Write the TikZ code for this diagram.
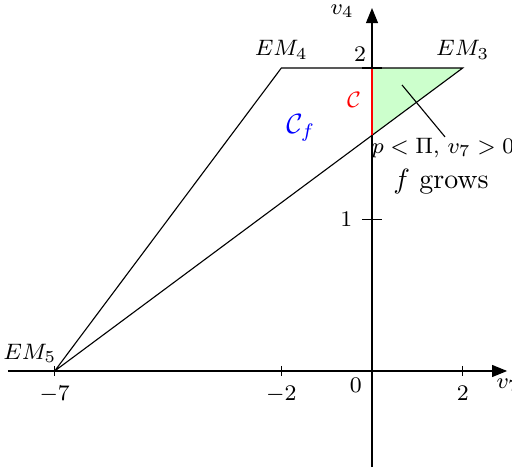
\documentclass[tikz,border=0pt]{standalone}
\usetikzlibrary{arrows.meta}
\begin{document}
\begin{tikzpicture}[x=16.25pt,y=54.30pt,
  axisarrow/.style={-{Triangle[length=5.4pt,width=4.3pt]}},
  ticklab/.style={font=\footnotesize},
  emlab/.style={font=\footnotesize}]
\useasboundingbox (-8.206,-0.660) rectangle (3.088,2.449);
% points
\coordinate (EM5) at (-7,0);
\coordinate (EM4) at (-2,2);
\coordinate (EM3) at (2,2);
\coordinate (T) at (0,2);
\coordinate (B) at (0,14/9);
% region
\fill[green!20] (T) -- (EM3) -- (B) -- cycle;
\draw (EM5) -- (EM4) -- (EM3) -- (EM5);
% axes
\coordinate (xs) at (-8.03,0);
\coordinate (xe) at (2.98,0);
\coordinate (ys) at (0,-0.634);
\coordinate (ye) at (0,2.396);
\draw[axisarrow] (xs) -- (xe);
\draw[axisarrow] (ys) -- (ye);
\draw[red] (B) -- (T);
% x ticks
\foreach \x/\n in {-7/a,-2/b,2/c}{
  \coordinate (xt\n1) at (\x,0.033);
  \coordinate (xt\n2) at (\x,-0.033);
  \draw (xt\n1) -- (xt\n2);
  \node[ticklab,below] (xl\n) at (xt\n2) {$\x$};
}
% y ticks
\coordinate (yt11) at (-0.22,1);
\coordinate (yt12) at (0.22,1);
\draw (yt11) -- (yt12);
\node[ticklab,left] (yl1) at (yt11) {$1$};
\coordinate (yt21) at (-0.22,2);
\coordinate (yt22) at (0.22,2);
\draw (yt21) -- (yt22);
\node[ticklab,anchor=south east,inner sep=2pt] (yl2) at (T) {$2$};
\node[ticklab,anchor=north east,inner sep=2.5pt,xshift=-1pt] (ol) at (0,0) {$0$};
% axis labels
\node[ticklab,inner sep=0] (v4) at (-0.66,2.375) {$v_4$};
\node[ticklab,anchor=west,inner sep=0] (v7) at (2.735,-0.092) {$v_7$};
% vertex labels
\node[emlab,anchor=south,inner sep=3pt] (lEM4) at (EM4) {$EM_4$};
\node[emlab,anchor=south,inner sep=3pt] (lEM3) at (EM3) {$EM_3$};
\node[emlab,anchor=south east,inner sep=0pt,xshift=0.8pt,yshift=2.9pt] (lEM5) at (EM5) {$EM_5$};
% set labels
\node[red,font=\footnotesize] (C) at (-0.40,1.789) {$\mathcal{C}$};
\node[blue] (Cf) at (-1.57,1.604) {$\mathcal{C}_f$};
% pointer and annotation
\coordinate (pa) at (0.662,1.888);
\coordinate (pb) at (1.611,1.545);
\draw (pa) -- (pb);
\node[font=\footnotesize] (cond) at (1.566,1.472) {$p<\Pi$, $v_7>0$};
\node (grow) at (1.522,1.248) {$f$ grows};
\end{tikzpicture}
\end{document}
